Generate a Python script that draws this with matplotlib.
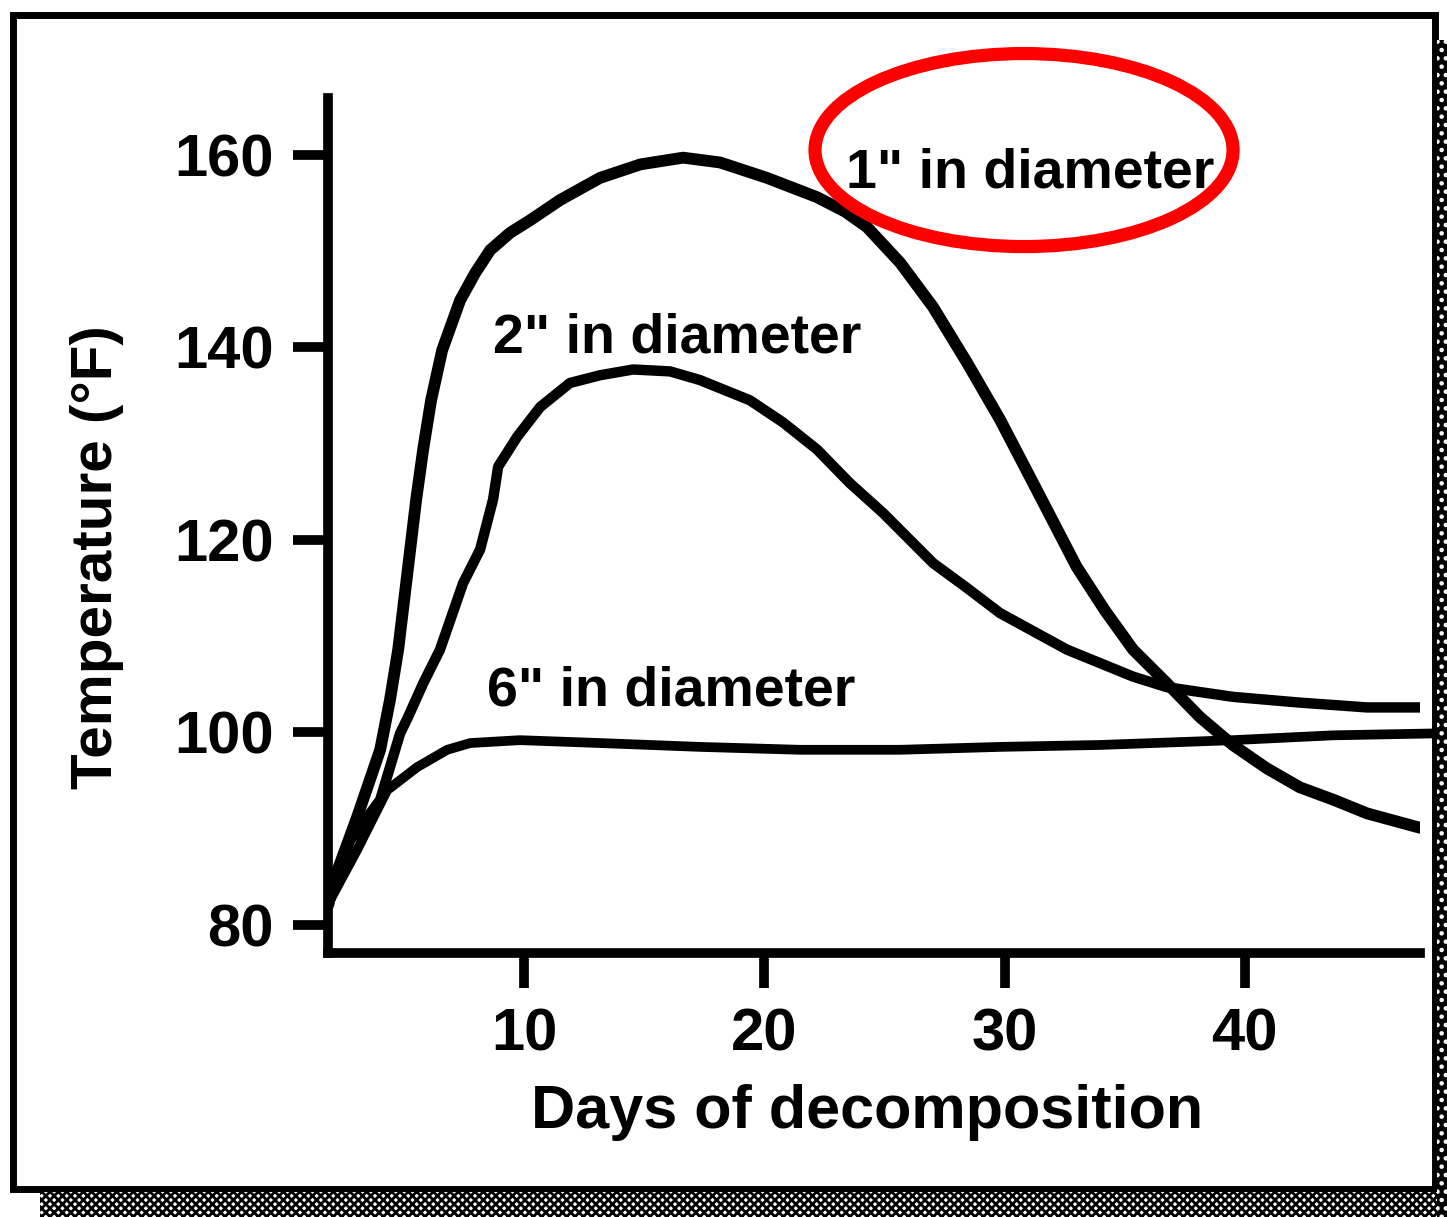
import numpy as np
import matplotlib
matplotlib.use("Agg")
import matplotlib.pyplot as plt
from matplotlib.patches import Ellipse, Rectangle

# data (day, temperature °F)
days_1in = [1.85, 2.05, 3.05, 4.01, 4.42, 4.76, 5.01, 5.26, 5.51, 5.80, 6.13, 6.59, 7.34, 7.96,
            8.59, 9.42, 10.25, 11.5, 13.16, 14.84, 16.62, 18.16, 20.11, 22.19, 23.36, 24.27,
            25.65, 27.02, 28.44, 29.81, 31.19, 33.0, 34.17, 35.35, 36.76, 38.13, 39.5, 40.9,
            42.29, 43.7, 45.08, 47.29]
temp_1in = [82.1, 84.4, 91.2, 98.2, 103.4, 108.6, 113.8, 119.0, 124.2, 129.4, 134.5, 139.7, 144.9, 147.7,
            150.1, 151.9, 153.2, 155.3, 157.6, 159.0, 159.7, 159.2, 157.6, 155.6, 154.1, 152.5,
            148.8, 144.2, 138.4, 132.5, 125.9, 117.2, 112.7, 108.6, 105.1, 101.6, 98.7, 96.3,
            94.3, 93.0, 91.6, 90.1]

days_2in = [1.85, 2.76, 4.01, 4.84, 5.17, 5.80, 6.5, 7.46, 8.17, 8.71, 8.92, 9.71, 10.67,
            11.91, 13.16, 14.54, 16.08, 17.32, 19.4, 20.78, 22.19, 23.56, 24.94, 27.02, 28.44,
            29.81, 32.6, 35.35, 36.76, 39.5, 42.29, 45.08, 47.29]
temp_2in = [82.1, 88.8, 93.0, 99.9, 101.6, 105.1, 108.6, 115.5, 119.0, 124.2, 127.6, 130.7, 133.8,
            136.3, 137.1, 137.7, 137.5, 136.6, 134.5, 132.2, 129.4, 125.9, 122.8, 117.6, 115.0,
            112.4, 108.6, 105.8, 104.7, 103.7, 103.1, 102.6, 102.6]

days_6in = [1.85, 1.93, 3.05, 4.3, 5.55, 6.8, 7.76, 9.83, 13.16, 17.32, 21.48, 25.65,
            29.81, 33.97, 39.5, 43.66, 47.9]
temp_6in = [82.1, 82.6, 87.8, 94.0, 96.4, 98.2, 98.9, 99.2, 98.9, 98.5, 98.2, 98.2,
            98.5, 98.7, 99.2, 99.7, 99.9]

x_ticks = [10, 20, 30, 40]
y_ticks = [80, 100, 120, 140, 160]

labels = ['1" in diameter', '2" in diameter', '6" in diameter']
label_pos = [(31.07, 156.6), (16.39, 139.5), (16.12, 102.75)]

plt.rcParams['font.family'] = ['Liberation Sans', 'DejaVu Sans']
plt.rcParams['hatch.linewidth'] = 2.0

fig = plt.figure(figsize=(14.47, 12.17), dpi=100)
ax = fig.add_axes([0.2267, 0.2169, 0.9813 - 0.2267, 0.9195 - 0.2169])

ax.plot(days_1in, temp_1in, color='black', lw=8.5, solid_capstyle='round', solid_joinstyle='round')
ax.plot(days_2in, temp_2in, color='black', lw=7.5, solid_capstyle='round', solid_joinstyle='round')
ax.plot(days_6in, temp_6in, color='black', lw=7, solid_capstyle='butt', solid_joinstyle='round',
        clip_on=False)

for txt, (x, y) in zip(labels, label_pos):
    ax.text(x, y, txt, ha='center', va='baseline', fontsize=40, fontweight='bold')

ax.set_xlim(1.84, 47.29)
ax.set_ylim(77.09, 165.9)
ax.set_xticks(x_ticks)
ax.set_yticks(y_ticks)

for side in ['top', 'right']:
    ax.spines[side].set_visible(False)
for side in ['left', 'bottom']:
    ax.spines[side].set_linewidth(7)
    ax.spines[side].set_capstyle('projecting')

ax.tick_params(direction='out', length=25, width=7, pad=14)
for lab in ax.get_xticklabels() + ax.get_yticklabels():
    lab.set_fontweight('bold')
    lab.set_fontsize(43)

ax.set_xlabel("Days of decomposition", fontsize=44, fontweight='bold', va='center')
ax.xaxis.set_label_coords(0.4936, -0.186)
ax.set_ylabel("Temperature (°F)", fontsize=42, fontweight='bold', va='center')
ax.yaxis.set_label_coords(-0.2115, 0.463)

# red ellipse round the 1" label
fig.add_artist(Ellipse((0.7077, 0.8767), 0.2889, 0.1586, transform=fig.transFigure,
                       fill=False, edgecolor='#ff0000', lw=9.5))

# outer frame and scanned shadow
fig.add_artist(Rectangle((0.0093, 0.0226), 0.9914 - 0.0093, 0.9877 - 0.0226,
                         transform=fig.transFigure, fill=False, edgecolor='black', lw=5))
fig.add_artist(Rectangle((0.0276, 0.0), 0.9724, 0.0205, transform=fig.transFigure,
                         facecolor='white', edgecolor='black', hatch='xxxx', lw=0))
fig.add_artist(Rectangle((0.9931, 0.0), 0.0069, 0.967, transform=fig.transFigure,
                         facecolor='black', edgecolor='white', hatch='..', lw=0))

fig.savefig("out.png", dpi=100)
